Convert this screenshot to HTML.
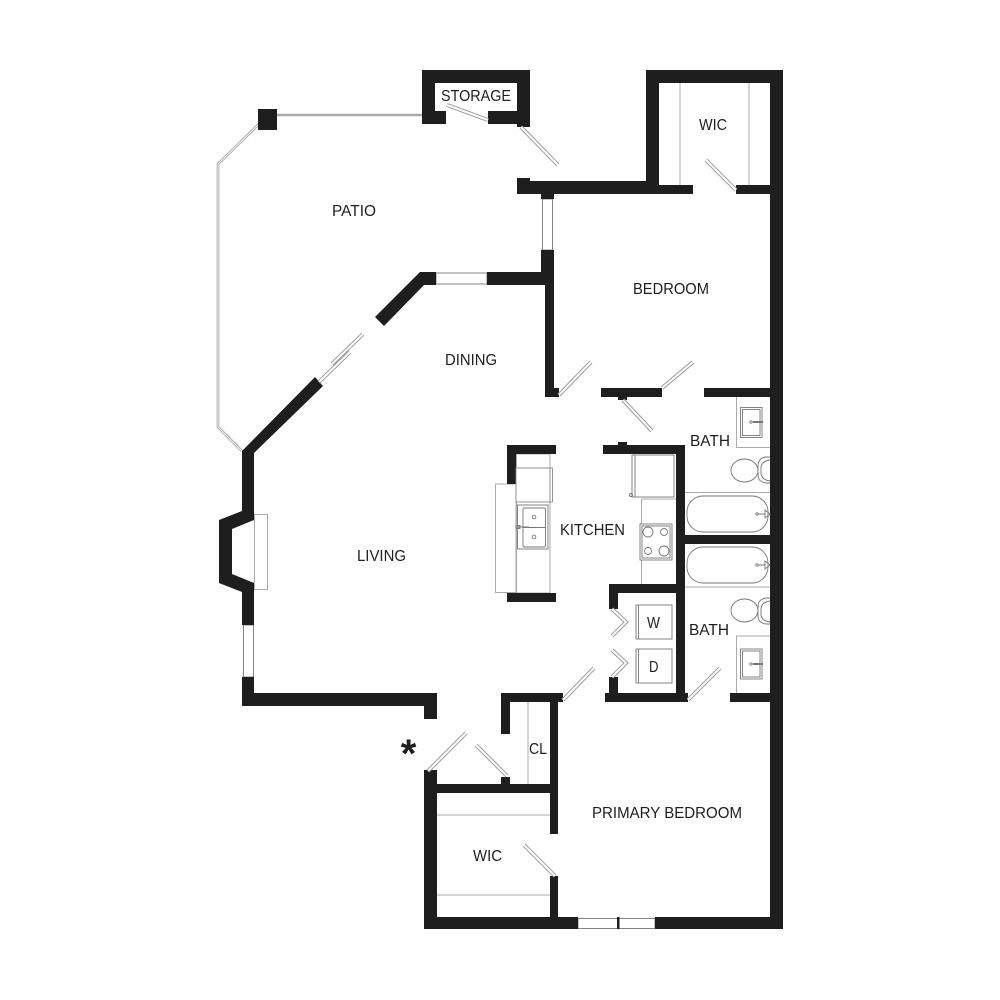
<!DOCTYPE html>
<html>
<head>
<meta charset="utf-8">
<style>
html,body{margin:0;padding:0;background:#fff}
svg{display:block}
text{font-family:"Liberation Sans",sans-serif;font-size:15.5px;fill:#1e1e1e}
.w{fill:#1e1e1e;stroke:none}
.l{fill:none;stroke:#aaa;stroke-width:1}
.p{fill:none;stroke:#777;stroke-width:.9}
.do1{stroke:#999;stroke-width:4;fill:none}
.do2{stroke:#fff;stroke-width:2;fill:none}
</style>
</head>
<body>
<svg width="1000" height="1000" viewBox="0 0 1000 1000" xmlns="http://www.w3.org/2000/svg">
<rect width="1000" height="1000" fill="#fff"/>

<!-- patio rail -->
<path d="M277 115H422" fill="none" stroke="#aaa" stroke-width="2.5"/>
<path d="M259 124L218 164V427L242 451" fill="none" stroke="#999" stroke-width="2.600"/>
<path d="M259 124L218 164V427L242 451" fill="none" stroke="#fff" stroke-width="1"/>

<!-- thin lines -->
<g class="l">
<rect x="254.500" y="514.500" width="13" height="75"/>
<path d="M680 83V185M749 83V185"/>
<path d="M528 702V784M437 815H550M437 895H550"/>
<rect x="516.500" y="454" width="33.500" height="139"/>
<rect x="495.500" y="484" width="20.500" height="108.500"/>
<path d="M641.500 499V584M641.500 499H676"/>
<path d="M685 492.500H770M685 587H770"/>
<path d="M736.500 397V447.500H770M736.500 693V636H770"/>
</g>

<!-- windows -->
<g class="p">
<rect x="436" y="273" width="51" height="11"/>
<rect x="542.500" y="199" width="10" height="51"/>
<rect x="243.500" y="625" width="10" height="52"/>
<rect x="578" y="918.500" width="77" height="10"/>
</g>

<!-- walls -->
<g class="w">
<path d="M422 70H530V127H517V124H488V111H517V83H435V111H446V124H422Z"/>
<rect x="258" y="109" width="19" height="21"/>
<path d="M646 70H783V929H655V917H770V194H736V185H770V83H659V185H693V194H517V178H530V181H646Z"/>
<rect x="541" y="194" width="13" height="5"/>
<path d="M541 250H554V397H545V285H487V272H541Z"/>
<rect x="545" y="388" width="14" height="9"/>
<path d="M420 272H436V285H424L384 326L375 317Z"/>
<path d="M315 377L323 386L254 453V520L232 529V574L254 583V625H242V592L219 583V520L242 511V451Z"/>
<path d="M242 677H254V693H437V719H424V706H242Z"/>
<path d="M501 693H563V702H558V834H550V793H437V917H550V876H558V917H578V929H424V770H437V784H501V777H510V784H550V702H510V734H501Z"/>
<rect x="601" y="388" width="61" height="9"/>
<rect x="618" y="397" width="9" height="3"/>
<rect x="704" y="388" width="66" height="9"/>
<path d="M507 445H556V454H516V484H507Z"/>
<rect x="507" y="593" width="49" height="9"/>
<path d="M603 445H685V535H770V544H685V693H688V702H605V693H609V677H618V693H676V593H618V609H609V584H676V454H603Z"/>
<rect x="618" y="442" width="9" height="3"/>
<rect x="730" y="693" width="40" height="9"/>
</g>
<rect x="617" y="917" width="2.500" height="12" fill="#1e1e1e"/>

<!-- doors -->
<g>
<path class="do1" d="M447 105L488 120M521 127L558 165M706 160L736 190M559 395L591 362M662 388L693 362M623 400L652 431M563 700L594 668M688 700L720 668M428 771L466 733M476 745L507 776M524 845L555 876M319 382L350 352M332 364L363 334M612 609L626 622L612 636M612 650L626 663L612 677"/>
<path class="do2" d="M447 105L488 120M521 127L558 165M706 160L736 190M559 395L591 362M662 388L693 362M623 400L652 431M563 700L594 668M688 700L720 668M428 771L466 733M476 745L507 776M524 845L555 876M319 382L350 352M332 364L363 334M612 609L626 622L612 636M612 650L626 663L612 677"/>
</g>

<!-- fixtures -->
<g class="p">
<rect x="516" y="468" width="34" height="34" fill="#fff" stroke="#888"/>
<rect x="550" y="468" width="2.500" height="34" fill="#fff" stroke="#888"/>
<rect x="517.500" y="505" width="30.500" height="44" fill="#fff"/>
<rect x="523" y="508" width="22.500" height="39" rx="1.500" fill="#fff"/>
<path d="M523 527.500H545.500M516 527H529"/>
<circle cx="534" cy="517" r="1.800"/>
<circle cx="534" cy="537" r="1.800"/>
<rect x="516" y="525.500" width="4" height="3" fill="#999"/>
<rect x="632" y="455" width="42" height="42" fill="#fff"/>
<path d="M635 455V497"/>
<circle cx="631" cy="495" r="1.500"/>
<rect x="640" y="524" width="32" height="36" fill="#fff"/>
<rect x="642" y="526" width="28" height="32"/>
<circle cx="648" cy="532" r="5"/>
<circle cx="664" cy="532" r="3.500"/>
<circle cx="648" cy="551" r="3.500"/>
<circle cx="664" cy="551" r="5"/>
<rect x="636" y="605" width="36" height="34"/>
<path d="M638.500 605V639"/>
<rect x="636" y="649" width="36" height="34"/>
<path d="M638.500 649V683"/>
<rect x="687" y="496" width="81" height="36" rx="16"/>
<rect x="687" y="547" width="81" height="36" rx="16"/>
<path d="M765 510L770 514L765 518ZM758 514H765M765 561L770 565L765 569ZM758 565H765"/>
<circle cx="757" cy="514" r="1.200"/>
<circle cx="757" cy="565" r="1.200"/>
<rect x="740.500" y="407.500" width="21.500" height="30"/>
<rect x="742.500" y="409.500" width="17.500" height="26"/>
<circle cx="751" cy="422" r="1.200"/>
<path d="M753 422H763" stroke-width="2"/>
<rect x="740.500" y="649" width="21.500" height="30"/>
<rect x="742.500" y="651" width="17.500" height="26"/>
<circle cx="751" cy="664" r="1.200"/>
<path d="M753 664H763" stroke-width="2"/>
<path d="M770 457H766Q758 458 758 466V475Q758 482 766 483H770"/>
<path d="M770 460Q762 461 761 467V474Q762 480 770 481"/>
<ellipse cx="744.500" cy="470.500" rx="13.500" ry="11.500" fill="#fff"/>
<path d="M770 598H766Q758 599 758 607V616Q758 623 766 624H770"/>
<path d="M770 601Q762 602 761 608V615Q762 621 770 622"/>
<ellipse cx="744.500" cy="610.500" rx="13.500" ry="11.500" fill="#fff"/>
</g>

<!-- labels -->
<text x="441" y="101" textLength="70" lengthAdjust="spacingAndGlyphs">STORAGE</text>
<text x="332" y="216" textLength="44" lengthAdjust="spacingAndGlyphs">PATIO</text>
<text x="699" y="130" textLength="28" lengthAdjust="spacingAndGlyphs">WIC</text>
<text x="633" y="294" textLength="76" lengthAdjust="spacingAndGlyphs">BEDROOM</text>
<text x="445" y="365" textLength="52" lengthAdjust="spacingAndGlyphs">DINING</text>
<text x="690" y="446" textLength="40" lengthAdjust="spacingAndGlyphs">BATH</text>
<text x="560" y="535" textLength="65" lengthAdjust="spacingAndGlyphs">KITCHEN</text>
<text x="357" y="561" textLength="49" lengthAdjust="spacingAndGlyphs">LIVING</text>
<text x="647" y="628" textLength="13" lengthAdjust="spacingAndGlyphs">W</text>
<text x="689" y="635" textLength="40" lengthAdjust="spacingAndGlyphs">BATH</text>
<text x="649" y="672" textLength="9.500" lengthAdjust="spacingAndGlyphs">D</text>
<text x="529" y="754" textLength="18" lengthAdjust="spacingAndGlyphs">CL</text>
<text x="592" y="818" textLength="150" lengthAdjust="spacingAndGlyphs">PRIMARY BEDROOM</text>
<text x="473" y="861" textLength="29" lengthAdjust="spacingAndGlyphs">WIC</text>
<text x="408.500" y="767" text-anchor="middle" style="font-size:40px;font-weight:bold">*</text>
</svg>
</body>
</html>
